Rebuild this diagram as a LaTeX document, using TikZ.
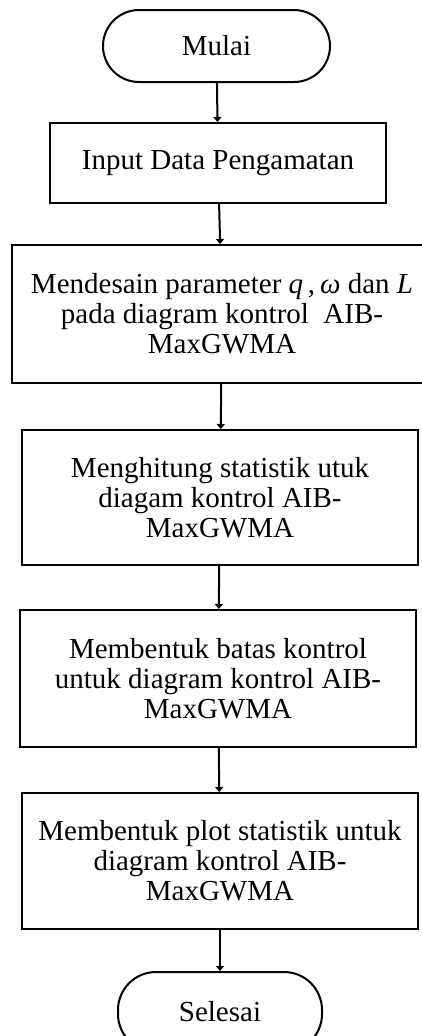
\documentclass[tikz,border=0pt]{standalone}
\usepackage{fontspec}
\setmainfont{Liberation Serif}
\usetikzlibrary{arrows.meta}

\begin{document}
\begin{tikzpicture}[x=1pt,y=1pt,
		terminal/.style={draw, line width=2pt, rounded corners=36pt, minimum height=72pt, inner sep=0pt},
		proses/.style={draw, line width=2pt, align=center, inner sep=0pt, minimum width=396pt},
		every node/.append style={font=\fontsize{29}{30}\selectfont}]
		\useasboundingbox (0,0) rectangle (422,-1036);

		\draw (216.5,-46) node [terminal, minimum width=227pt] (mulai) {Mulai};
		\draw (218,-163) node [proses, minimum width=336pt, minimum height=80pt] (input) {Input Data Pengamatan};
		\draw (222,-314) node [proses, minimum width=420pt, minimum height=138pt] (desain) {Mendesain parameter \textit{q}\,,\,\textit{ω} dan \textit{L}\\pada diagram kontrol\ \ AIB-\\MaxGWMA};
		\draw (220,-497.5) node [proses, minimum height=135pt] (hitung) {Menghitung statistik utuk\\diagam kontrol AIB-\\MaxGWMA};
		\draw (218,-678.5) node [proses, minimum height=137pt] (batas) {Membentuk batas kontrol\\untuk diagram kontrol AIB-\\MaxGWMA};
		\draw (220,-861) node [proses, minimum height=136pt] (plot) {Membentuk plot statistik untuk\\diagram kontrol AIB-\\MaxGWMA};
		\draw (220,-1012) node [terminal, minimum width=204pt, minimum height=80pt, rounded corners=38pt] (selesai) {Selesai};

		\draw [line width=2pt, -{Triangle[length=5pt,width=8pt]}]
		(mulai) edge (input)
		(input) edge (desain)
		(desain) edge (hitung)
		(hitung) edge (batas)
		(batas) edge (plot)
		(plot) edge (selesai);
	\end{tikzpicture}
\end{document}
